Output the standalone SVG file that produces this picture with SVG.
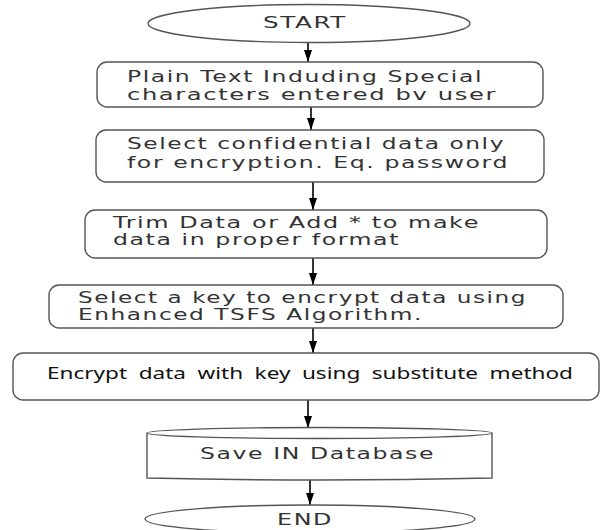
<svg xmlns="http://www.w3.org/2000/svg" width="601" height="530" viewBox="0 0 601 530">
<defs>
<style>
.shape{fill:#fff;stroke:#555;stroke-width:1.4}
.conn{stroke:#000;stroke-width:1.6;fill:none}
.t{font-family:"DejaVu Sans","Liberation Sans",sans-serif;font-size:15px;fill:#333;letter-spacing:1px}
.t2{font-family:"Noto Sans","Liberation Sans",sans-serif;font-size:16px;fill:#111;word-spacing:4px}
</style>
<marker id="ah" viewBox="0 0 12 8" refX="12" refY="4" markerWidth="12" markerHeight="8" markerUnits="userSpaceOnUse" orient="auto">
<path d="M0,0 L12,4 L0,8 Z" fill="#000"/>
</marker>
</defs>
<rect width="601" height="530" fill="#fff"/>
<g id="connectors">
<line class="conn" x1="308" y1="43" x2="308" y2="62" marker-end="url(#ah)"/>
<line class="conn" x1="311" y1="107" x2="311" y2="130" marker-end="url(#ah)"/>
<line class="conn" x1="313" y1="182" x2="313" y2="210" marker-end="url(#ah)"/>
<line class="conn" x1="313" y1="258" x2="313" y2="285" marker-end="url(#ah)"/>
<line class="conn" x1="313" y1="328" x2="313" y2="353" marker-end="url(#ah)"/>
<line class="conn" x1="308" y1="400" x2="308" y2="428" marker-end="url(#ah)"/>
<line class="conn" x1="310" y1="479" x2="310" y2="505" marker-end="url(#ah)"/>
</g>
<g id="start">
<ellipse class="shape" cx="309" cy="23.5" rx="161" ry="19"/>
<text class="t" x="305" y="28" text-anchor="middle" textLength="84" lengthAdjust="spacingAndGlyphs">START</text>
</g>
<g id="input">
<rect class="shape" x="97" y="62" width="446" height="45" rx="10"/>
<text class="t" x="127" y="82" textLength="356" lengthAdjust="spacingAndGlyphs">Plain Text Induding Special</text>
<text class="t" x="127" y="100" textLength="370" lengthAdjust="spacingAndGlyphs">characters entered bv user</text>
</g>
<g id="select">
<rect class="shape" x="96" y="130" width="448" height="52" rx="10"/>
<text class="t" x="127" y="149" textLength="378" lengthAdjust="spacingAndGlyphs">Select confidential data only</text>
<text class="t" x="127" y="168" textLength="382" lengthAdjust="spacingAndGlyphs">for encryption. Eq. password</text>
</g>
<g id="trim">
<rect class="shape" x="85" y="210" width="462" height="48" rx="10"/>
<text class="t" x="113" y="228" textLength="367" lengthAdjust="spacingAndGlyphs">Trim Data or Add * to make</text>
<text class="t" x="113" y="245" textLength="287" lengthAdjust="spacingAndGlyphs">data in proper format</text>
</g>
<g id="key">
<rect class="shape" x="49" y="285" width="514" height="43" rx="10"/>
<text class="t" x="78" y="303" textLength="449" lengthAdjust="spacingAndGlyphs">Select a key to encrypt data using</text>
<text class="t" x="78" y="320" textLength="345" lengthAdjust="spacingAndGlyphs">Enhanced TSFS Algorithm.</text>
</g>
<g id="encrypt">
<rect class="shape" x="13" y="353" width="586" height="47" rx="10"/>
<text class="t2" x="47" y="379" textLength="526" lengthAdjust="spacingAndGlyphs">Encrypt data with key using substitute method</text>
</g>
<g id="database">
<path class="shape" d="M147,433 L147,478 Q319.5,482 492,478 L492,433"/>
<ellipse class="shape" cx="319.5" cy="433" rx="172.5" ry="5.5"/>
<text class="t" x="200" y="459" textLength="235" lengthAdjust="spacingAndGlyphs">Save IN Database</text>
</g>
<g id="end">
<ellipse class="shape" cx="310" cy="519" rx="165" ry="14"/>
<text class="t" x="305" y="525" text-anchor="middle" textLength="56" lengthAdjust="spacingAndGlyphs">END</text>
</g>
</svg>
